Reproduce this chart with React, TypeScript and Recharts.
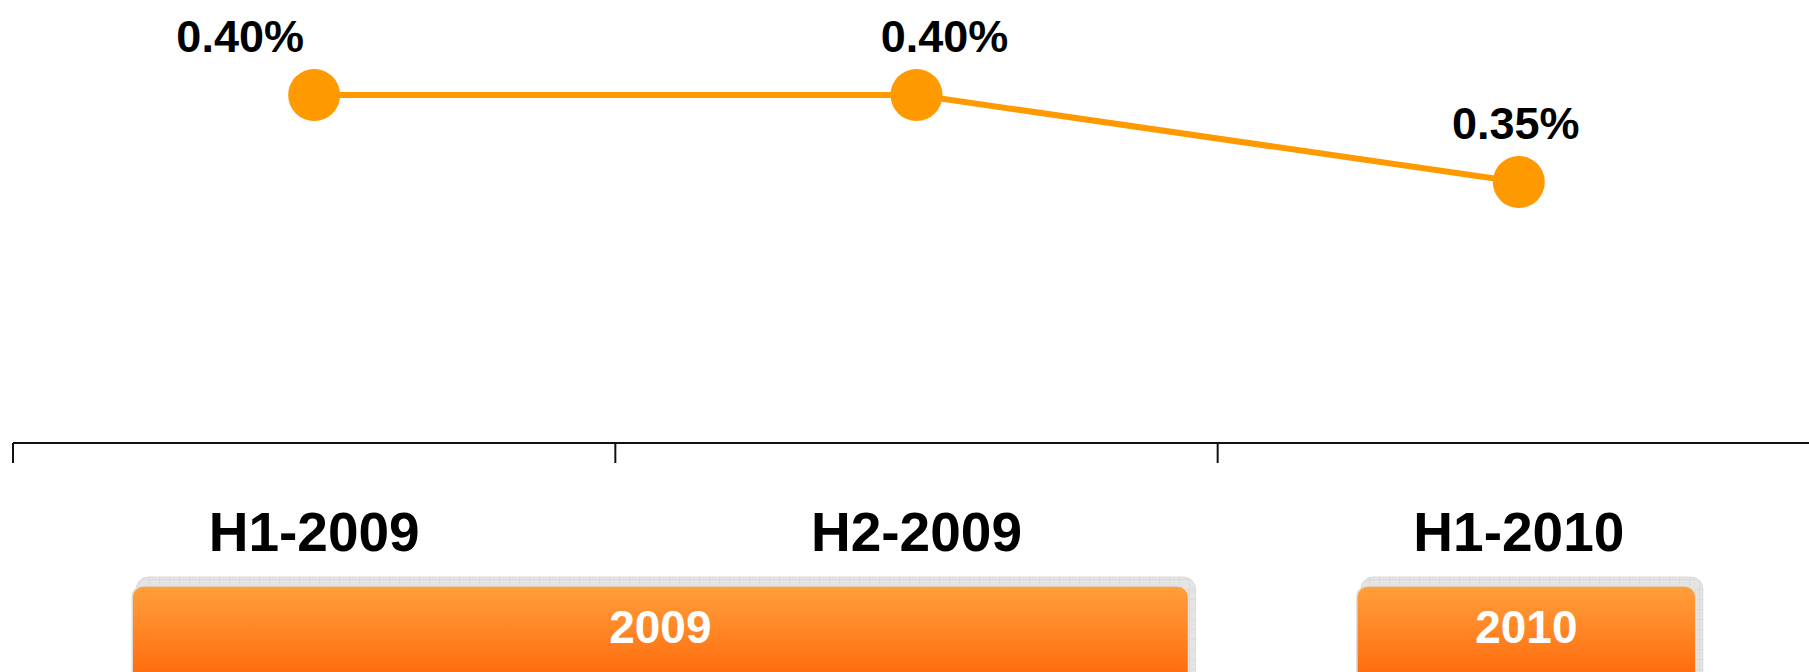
import { LineChart, Line, XAxis, YAxis, ReferenceArea } from 'recharts';

const periods = ['H1-2009', 'H2-2009', 'H1-2010'];
const rates = [0.4, 0.4, 0.35];
const years = ['2009', '2010'];
const yearFrom = ['H1-2009', 'H1-2010'];
const yearTo = ['H2-2009', 'H1-2010'];

const data = periods.map((period, i) => ({ period, rate: rates[i] }));

const W = 1820;
const H = 700;
const M = { top: 8, right: 0, bottom: 57, left: 13 };
const BAND = (W - M.left - M.right) / periods.length;

const ORANGE = '#ff9900';
const FONT = '"Liberation Sans", Arial, Helvetica, sans-serif';

// small nudges so the value labels sit where the original puts them
const labelNudge = [-74, 28, -3];
// how far each year bar reaches past its first / last point
const yearInset: Record<string, [number, number]> = {
  '2009': [-182, -272],
  '2010': [-162, -177],
};

const renderValue = (p: any) => {
  const { x, y, value, index } = p;
  return (
    <text
      x={x + (labelNudge[index] ?? 0)}
      y={y - 43}
      textAnchor="middle"
      fontSize={45}
      fontWeight="bold"
      fontFamily={FONT}
      fill="#000"
    >
      {`${Number(value).toFixed(2)}%`}
    </text>
  );
};

const PeriodTick = (p: any) => {
  const { x, y, payload } = p;
  return (
    <g>
      <line x1={x - BAND / 2} y1={y} x2={x - BAND / 2} y2={y + 20} stroke="#111" strokeWidth={2} />
      <text
        x={x}
        y={y + 108}
        textAnchor="middle"
        fontSize={55}
        fontWeight="bold"
        fontFamily={FONT}
        fill="#000"
      >
        {payload.value}
      </text>
    </g>
  );
};

const YearBar = (props: any) => {
  const { x, y, width, height, year } = props;
  const [inL, inR] = yearInset[year];
  const left = x + inL;
  const w = width - inL - inR;
  const base = y + height;
  const id = `yr${year}`;
  return (
    <g>
      <defs>
        <linearGradient id={`${id}g`} x1="0" y1="0" x2="0" y2="1">
          <stop offset="0%" stopColor="#ff9f3c" />
          <stop offset="100%" stopColor="#ff6608" />
        </linearGradient>
        <pattern id={`${id}p`} width="10" height="10" patternUnits="userSpaceOnUse">
          <rect width="10" height="10" fill="#e4e4e4" />
          <path d="M10 0 V10 M0 10 H10" stroke="#d0d0d0" strokeWidth="1" />
        </pattern>
      </defs>
      <rect x={left + 4} y={base + 134} width={w + 3} height={110} rx={12} fill={`url(#${id}p)`} stroke="#dadada" />
      <rect x={left} y={base + 143} width={w} height={100} rx={11} fill={`url(#${id}g)`} stroke="#e0e0e0" strokeWidth={1.5} />
      <text
        x={left + w / 2}
        y={base + 200}
        textAnchor="middle"
        fill="#fff"
        fontSize={46}
        fontWeight="bold"
        fontFamily={FONT}
      >
        {year}
      </text>
    </g>
  );
};

export default function App() {
  return (
    <div style={{ position: 'fixed', left: 0, top: 0, width: 1809, height: 672, overflow: 'hidden', background: '#fff' }}>
      <LineChart width={W} height={H} data={data} margin={M}>
        <XAxis
          dataKey="period"
          height={200}
          padding={{ left: BAND / 2, right: BAND / 2 }}
          axisLine={{ stroke: '#111', strokeWidth: 2 }}
          tickLine={false}
          tickSize={0}
          tickMargin={0}
          tick={<PeriodTick />}
          interval={0}
        />
        <YAxis hide domain={[0.2, 0.45]} />
        {years.map((yr, i) => (
          <ReferenceArea
            key={yr}
            x1={yearFrom[i]}
            x2={yearTo[i]}
            shape={(p: any) => <YearBar {...p} year={yr} />}
          />
        ))}
        <Line
          dataKey="rate"
          stroke={ORANGE}
          strokeWidth={6}
          dot={{ r: 26, fill: ORANGE, stroke: ORANGE, strokeWidth: 0 }}
          activeDot={false}
          label={renderValue}
          isAnimationActive={false}
        />
      </LineChart>
    </div>
  );
}
